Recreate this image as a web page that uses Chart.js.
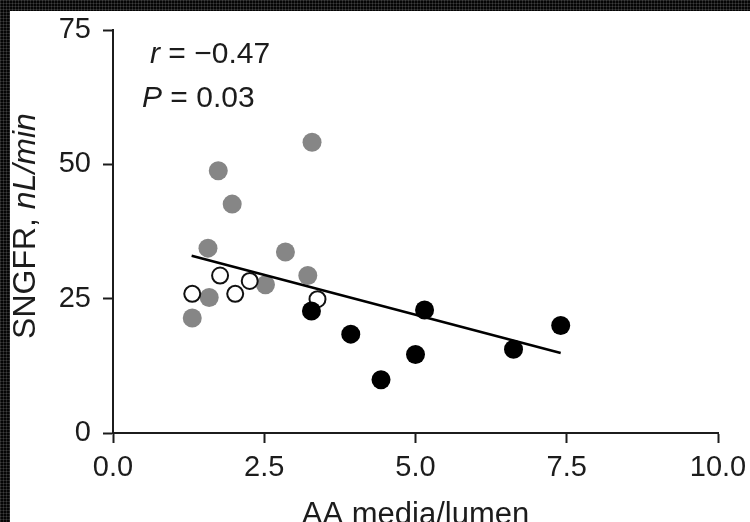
<!DOCTYPE html>
<html lang="en">
<head>
    <meta charset="UTF-8">
    <title>SNGFR vs AA media/lumen</title>
    <style>
        html, body {
            margin: 0;
            width: 750px;
            height: 522px;
            overflow: hidden;
            background-color: #050505;
            background-image:
                linear-gradient(90deg, rgba(255,255,255,0.12) 1px, transparent 1px),
                linear-gradient(rgba(255,255,255,0.12) 1px, transparent 1px);
            background-size: 3px 3px;
        }

        #chart {
            position: absolute;
            left: 10px;
            top: 11px;
            background: #ffffff;
        }
    </style>
</head>
<body>
    <canvas id="chart" width="740" height="511"></canvas>

    <script src="https://cdn.jsdelivr.net/npm/chart.js"></script>
    <script>
        // data
        const grayX = [3.29, 1.74, 1.97, 1.57, 2.85, 3.22, 2.52, 1.59, 1.31];
        const grayY = [54.1, 48.8, 42.6, 34.4, 33.7, 29.3, 27.6, 25.2, 21.4];
        const openX = [1.77, 2.26, 1.31, 2.02, 3.38];
        const openY = [29.3, 28.3, 25.9, 25.9, 24.9];
        const blackX = [3.28, 3.93, 5.15, 5.00, 4.43, 6.62, 7.40];
        const blackY = [22.7, 18.4, 22.9, 14.6, 9.9, 15.6, 20.0];
        const fitX = [1.30, 7.40];
        const fitY = [33.0, 14.9];

        const xTicks = [0, 2.5, 5, 7.5, 10];
        const yTicks = [0, 25, 50, 75];

        const FONT = "'Liberation Sans', Arial, Helvetica, sans-serif";
        const INK = '#1c1c1c';

        function pts(xs, ys) {
            return xs.map((x, i) => ({ x: x, y: ys[i] }));
        }

        // axis titles and r / P labels (mixed italic)
        const labelsPlugin = {
            id: 'labels',
            afterDraw(chart) {
                const ctx = chart.ctx;
                const area = chart.chartArea;
                ctx.save();
                ctx.fillStyle = INK;
                ctx.textBaseline = 'alphabetic';
                ctx.textAlign = 'left';

                // r = -0.47
                let x = area.left + 37;
                ctx.font = 'italic 30px ' + FONT;
                ctx.fillText('r', x, area.top + 33);
                x += ctx.measureText('r').width;
                ctx.font = '30px ' + FONT;
                ctx.fillText(' = \u22120.47', x, area.top + 33);

                // P = 0.03
                x = area.left + 29;
                ctx.font = 'italic 30px ' + FONT;
                ctx.fillText('P', x, area.top + 77);
                x += ctx.measureText('P').width;
                ctx.font = '30px ' + FONT;
                ctx.fillText(' = 0.03', x, area.top + 77);

                // y title
                const part1 = 'SNGFR, ';
                const part2 = 'nL/min';
                ctx.font = '32px ' + FONT;
                const w1 = ctx.measureText(part1).width;
                ctx.font = 'italic 32px ' + FONT;
                const w2 = ctx.measureText(part2).width;
                ctx.translate(25, 215);
                ctx.rotate(-Math.PI / 2);
                ctx.font = '32px ' + FONT;
                ctx.fillText(part1, -(w1 + w2) / 2, 0);
                ctx.font = 'italic 32px ' + FONT;
                ctx.fillText(part2, -(w1 + w2) / 2 + w1, 0);
                ctx.restore();
            }
        };

        const axisGrid = {
            drawOnChartArea: false,
            drawTicks: true,
            tickLength: 10,
            tickWidth: 2,
            tickColor: INK
        };

        new Chart(document.getElementById('chart'), {
            type: 'scatter',
            data: {
                datasets: [
                    {
                        label: 'gray',
                        data: pts(grayX, grayY),
                        pointRadius: 9.5,
                        pointBackgroundColor: '#868686',
                        pointBorderWidth: 0,
                        order: 4
                    },
                    {
                        label: 'open',
                        data: pts(openX, openY),
                        pointRadius: 8,
                        pointBackgroundColor: '#ffffff',
                        pointBorderColor: '#111111',
                        pointBorderWidth: 2,
                        order: 3
                    },
                    {
                        label: 'black',
                        data: pts(blackX, blackY),
                        pointRadius: 9.5,
                        pointBackgroundColor: '#000000',
                        pointBorderWidth: 0,
                        order: 2
                    },
                    {
                        type: 'line',
                        label: 'fit',
                        data: pts(fitX, fitY),
                        borderColor: '#000000',
                        borderWidth: 2.5,
                        pointRadius: 0,
                        fill: false,
                        order: 1
                    }
                ]
            },
            options: {
                responsive: false,
                animation: false,
                layout: {
                    padding: { top: 19, right: 32, left: 0, bottom: 0 }
                },
                plugins: {
                    legend: { display: false },
                    tooltip: { enabled: false }
                },
                scales: {
                    x: {
                        type: 'linear',
                        min: 0,
                        max: 10,
                        afterFit(scale) {
                            scale.height = 89;
                            scale.paddingLeft = 0;
                            scale.paddingRight = 0;
                        },
                        afterBuildTicks(scale) { scale.ticks = xTicks.map(v => ({ value: v })); },
                        grid: axisGrid,
                        border: { display: true, color: INK, width: 2 },
                        ticks: {
                            color: INK,
                            padding: 8,
                            maxRotation: 0,
                            font: { family: FONT, size: 29 },
                            callback: v => v.toFixed(1)
                        },
                        title: {
                            display: true,
                            text: 'AA media/lumen',
                            color: INK,
                            font: { family: FONT, size: 31 },
                            padding: { top: 0, bottom: -12 }
                        }
                    },
                    y: {
                        type: 'linear',
                        min: 0,
                        max: 75,
                        afterFit(scale) {
                            scale.width = 103;
                            scale.paddingTop = 0;
                            scale.paddingBottom = 0;
                        },
                        afterBuildTicks(scale) { scale.ticks = yTicks.map(v => ({ value: v })); },
                        grid: axisGrid,
                        border: { display: true, color: INK, width: 2 },
                        ticks: {
                            color: INK,
                            padding: 12,
                            font: { family: FONT, size: 29 }
                        }
                    }
                }
            },
            plugins: [labelsPlugin]
        });
    </script>
</body>
</html>
